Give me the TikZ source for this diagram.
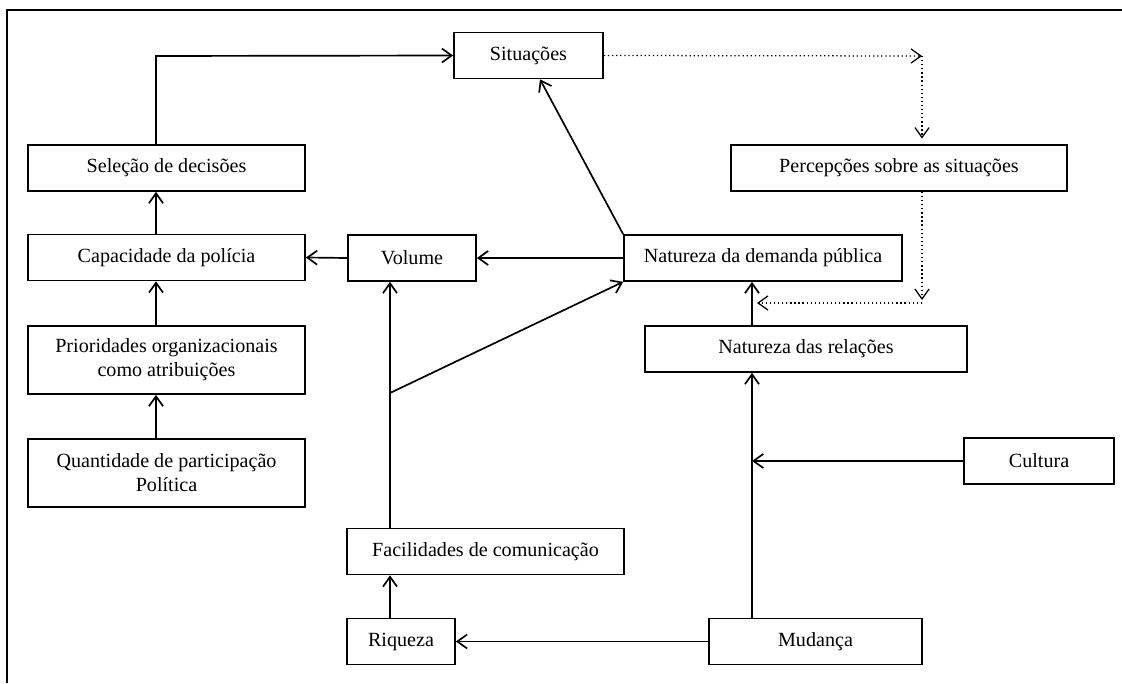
\documentclass[tikz,border=0pt]{standalone}
\usepackage{fontspec}
\setmainfont{Liberation Serif}
\usetikzlibrary{arrows.meta}
\begin{document}
\begin{tikzpicture}[x=0.025cm,y=-0.025cm,line width=1.2pt,
                box/.style={draw,rectangle,align=center,minimum height=1.15cm,inner sep=2pt,
                            font=\fontsize{14.3}{17}\selectfont},
                tall/.style={box,minimum height=1.7cm},
                arr/.style={-{Straight Barb[length=7pt,width=10pt]}},
                dots/.style={arr,dotted,line width=0.9pt}]
                \useasboundingbox (0,0) rectangle (1122,683);
                \draw (7,683) -- (7,10) -- (1122,10);
                % caixas
                \node[box,minimum width=3.725cm] (sit) at (528.5,55.5) {Situações};
                \node[box,minimum width=6.925cm] (sel) at (166.5,168) {Seleção de decisões};
                \node[box,minimum width=6.925cm] (cap) at (166.5,257.5) {Capacidade da polícia};
                \node[tall,minimum width=6.925cm] (prio) at (166.5,360) {Prioridades organizacionais\\como atribuições};
                \node[tall,minimum width=6.925cm] (quant) at (166.5,473) {Quantidade de participação\\Política};
                \node[box,minimum width=3.2cm] (vol) at (412,258) {Volume};
                \node[box,minimum width=6.95cm] (dem) at (763,258) {Natureza da demanda pública};
                \node[box,minimum width=8.4cm] (perc) at (899,168) {Percepções sobre as situações};
                \node[box,minimum width=8.05cm] (rel) at (806,349) {Natureza das relações};
                \node[box,minimum width=3.75cm] (cult) at (1039,461) {Cultura};
                \node[box,minimum width=6.925cm] (fac) at (485.5,551.5) {Facilidades de comunicação};
                \node[box,minimum width=2.7cm] (riq) at (401,641.5) {Riqueza};
                \node[box,minimum width=5.325cm] (mud) at (815.5,641.5) {Mudança};
                % colunas das ligações
                \coordinate (lcol) at (156,0);
                \coordinate (mcol) at (390,0);
                \coordinate (rcol) at (752,0);
                \coordinate (sitfoot) at (540,0);
                \coordinate (top) at (156,56);
                \coordinate (fork) at (390,393);
                \coordinate (cjoin) at (752,461);
                % ligações
                \draw[arr] (sel.north -| lcol) -- (top) -- (sit.west);
                \draw[arr] (cap.north -| lcol) -- (sel.south -| lcol);
                \draw[arr] (prio.north -| lcol) -- (cap.south -| lcol);
                \draw[arr] (quant.north -| lcol) -- (prio.south -| lcol);
                \draw[arr] (vol.west) -- (cap.east);
                \draw[arr] (dem.west) -- (vol.east);
                \draw[arr] (dem.north west) -- (sit.south -| sitfoot);
                \draw[arr] (fac.north -| mcol) -- (vol.south -| mcol);
                \draw[arr] (fork) -- (dem.south west);
                \draw[arr] (riq.north -| mcol) -- (fac.south -| mcol);
                \draw[arr] (mud.west) -- (riq.east);
                \draw[arr] (mud.north -| rcol) -- (rel.south -| rcol);
                \draw[arr] (cult.west) -- (cjoin);
                \draw[arr] (rel.north -| rcol) -- (dem.south -| rcol);
                % percepção (pontilhado)
                \coordinate (dcol) at (922,56);
                \coordinate (dturn) at (922,300);
                \coordinate (dbend) at (922,303);
                \coordinate (dend) at (757,303);
                \draw[dots] (sit.east) -- (dcol);
                \draw[dots,shorten >=4pt] (dcol) -- (perc.north -| dcol);
                \draw[dots] (perc.south -| dcol) -- (dturn);
                \draw[dots] (dbend) -- (dend);
            \end{tikzpicture}
\end{document}
